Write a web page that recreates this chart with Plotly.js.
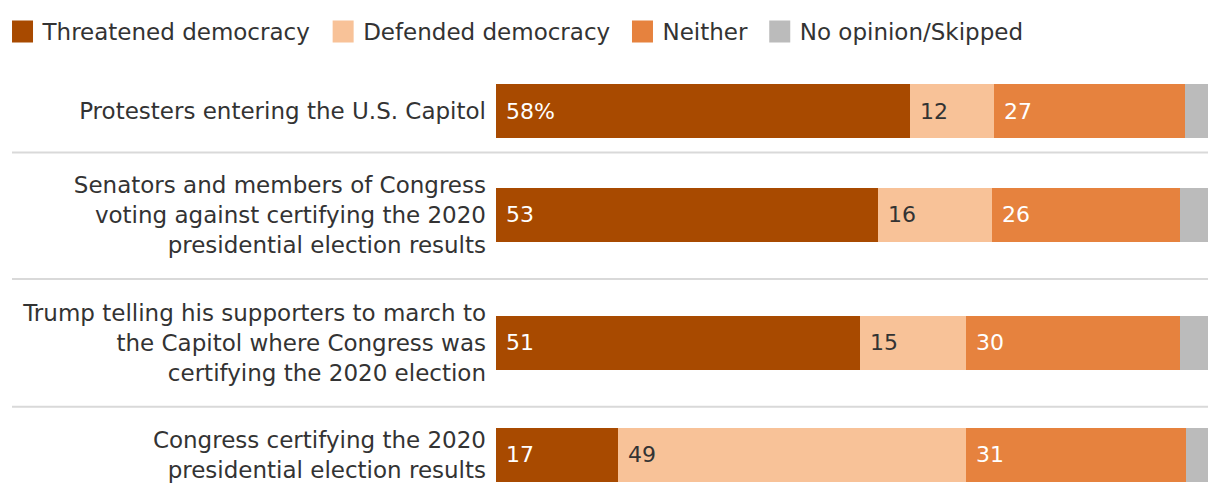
<!DOCTYPE html>
<html>
<head>
<meta charset="utf-8">
<script src="https://cdn.plot.ly/plotly-3.0.1.min.js"></script>
<style>
  html, body { margin: 0; padding: 0; background: #ffffff; }
  #chart { width: 1220px; height: 500px; }
</style>
</head>
<body>
<div id="chart"></div>
<script>
// ---- Data ----
const categories = [
  "Protesters entering the U.S. Capitol",
  "Senators and members of Congress<br>voting against certifying the 2020<br>presidential election results",
  "Trump telling his supporters to march to<br>the Capitol where Congress was<br>certifying the 2020 election",
  "Congress certifying the 2020<br>presidential election results"
];
const seriesNames = ["Threatened democracy", "Defended democracy", "Neither", "No opinion/Skipped"];
const threatened = [58.1, 53.6, 51.1, 17.1];
const defended   = [11.8, 16.0, 14.9, 48.9];
const neither    = [26.9, 26.4, 30.1, 30.9];
const noOpinion  = [3.2, 4.0, 3.9, 3.1];
const threatenedLabels = ["58%", "53", "51", "17"];
const defendedLabels   = ["12", "16", "15", "49"];
const neitherLabels    = ["27", "26", "30", "31"];
const noOpinionLabels  = ["", "", "", ""];

// ---- Styling ----
const colors = ["#A84A00", "#F8C298", "#E6823E", "#BBBBBB"];
const labelColors = ["#ffffff", "#333333", "#ffffff", "#333333"];
const series = [threatened, defended, neither, noOpinion];
const seriesLabels = [threatenedLabels, defendedLabels, neitherLabels, noOpinionLabels];
const FONT = "DejaVu Sans";

// Row layout (fraction of plot height from bottom)
const rowDomains = [
  [0.8643, 1.0],
  [0.6030, 0.7387],
  [0.2814, 0.4171],
  [0.0, 0.1357]
];
const sepY = [0.8279, 0.5101, 0.1892];

const axisId = i => (i === 0 ? "y" : "y" + (i + 1));
const axisKey = i => (i === 0 ? "yaxis" : "yaxis" + (i + 1));

const traces = [];
series.forEach((vals, s) => {
  categories.forEach((cat, i) => {
    traces.push({
      type: "bar",
      orientation: "h",
      x: [vals[i]],
      y: [cat],
      xaxis: "x",
      yaxis: axisId(i),
      name: seriesNames[s] + "\u00A0",
      legendgroup: seriesNames[s],
      showlegend: i === 0,
      marker: { color: colors[s], line: { width: 0 } },
      hoverinfo: "skip"
    });
  });
});

const annotations = [];
categories.forEach((cat, i) => {
  let start = 0;
  series.forEach((vals, s) => {
    const lab = seriesLabels[s][i];
    if (lab) {
      annotations.push({
        x: start, y: cat, xref: "x", yref: axisId(i),
        text: lab, showarrow: false, xanchor: "left", yanchor: "middle",
        xshift: 8,
        font: { family: FONT, size: 22, color: labelColors[s] }
      });
    }
    start += vals[i];
  });
});

const shapes = sepY.map(y => ({
  type: "line", xref: "paper", yref: "paper",
  x0: -0.6798, x1: 1, y0: y, y1: y,
  line: { color: "#d9d9d9", width: 2 }
}));

const layout = {
  width: 1220, height: 500,
  margin: { l: 496, r: 12, t: 84, b: 18, pad: 0, autoexpand: false },
  paper_bgcolor: "#ffffff", plot_bgcolor: "#ffffff",
  barmode: "stack",
  bargap: 0,
  showlegend: true,
  legend: {
    orientation: "h",
    x: -0.6931, xanchor: "left",
    y: 1.1319, yanchor: "middle",
    font: { family: FONT, size: 23, color: "#333333" },
    traceorder: "normal",
    itemclick: false, itemdoubleclick: false
  },
  xaxis: {
    range: [0, 100], domain: [0, 1], anchor: "y4",
    showgrid: false, zeroline: false, showticklabels: false, ticks: "", showline: false, fixedrange: true
  },
  annotations: annotations,
  shapes: shapes,
  hovermode: false
};

categories.forEach((cat, i) => {
  layout[axisKey(i)] = {
    type: "category",
    domain: rowDomains[i],
    range: [-0.5, 0.5],
    anchor: "x",
    showgrid: false, zeroline: false, showline: false, ticks: "",
    ticklabelstandoff: 9,
    automargin: false,
    tickfont: { family: FONT, size: 23, color: "#333333" },
    fixedrange: true
  };
});

Plotly.newPlot("chart", traces, layout, { displayModeBar: false, staticPlot: true }).then(gd => {
  // enlarge legend swatches to match the reference's big squares
  gd.querySelectorAll(".legend .legendpoints path").forEach(p => {
    p.setAttribute("d", "M10.5,11H-10.5V-11H10.5Z");
  });
});
</script>
</body>
</html>
